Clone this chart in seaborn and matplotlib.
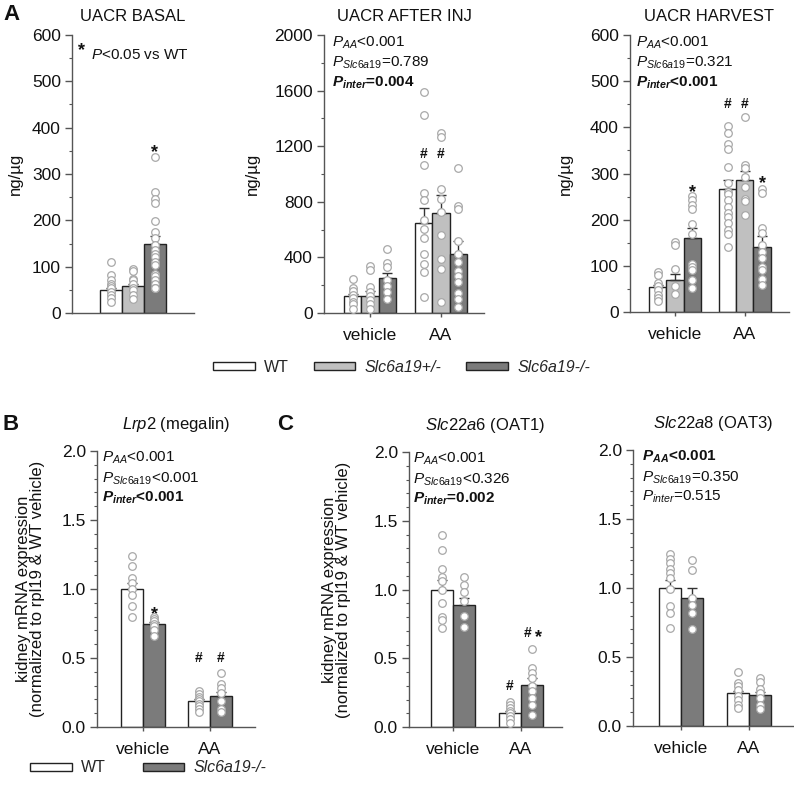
import numpy as np
import pandas as pd
import matplotlib
matplotlib.use("Agg")
import matplotlib.pyplot as plt
import seaborn as sns
from matplotlib.patches import Patch
from matplotlib.ticker import MultipleLocator, FormatStrFormatter

# ---------------- data ----------------
GENO3 = ["WT", "Slc6a19+/-", "Slc6a19-/-"]
GENO2 = ["WT", "Slc6a19-/-"]
TREAT = ["vehicle", "AA"]

# UACR basal (single group)
basal_mean = [49, 58, 149]
basal_sem = [4, 4, 18]
basal_wt = [109, 81, 72, 63, 58, 53, 45, 38, 32, 24]
basal_het = [96, 91, 74, 71, 62, 55, 49, 38, 30]
basal_ko = [337, 262, 245, 238, 198, 175, 161, 146, 137, 128, 120, 110, 103,
            85, 79, 72, 63, 55, 53]

# UACR after injection  [vehicle, AA]
inj_mean_wt = [125, 651]
inj_sem_wt = [15, 104]
inj_mean_het = [125, 721]
inj_sem_het = [33, 125]
inj_mean_ko = [255, 423]
inj_sem_ko = [33, 96]
inj_veh_wt = [248, 183, 156, 127, 108, 79, 63, 31]
inj_veh_het = [339, 312, 188, 151, 120, 91, 63, 31]
inj_veh_ko = [457, 363, 332, 236, 192, 151, 99]
inj_aa_wt = [1589, 1421, 1067, 861, 813, 668, 601, 536, 423, 356, 296, 115]
inj_aa_het = [1293, 1264, 889, 817, 726, 558, 392, 320, 79]
inj_aa_ko = [1041, 769, 748, 519, 423, 368, 303, 264, 224, 144, 103, 43]

# UACR harvest
har_mean_wt = [54, 266]
har_sem_wt = [5, 20]
har_mean_het = [69, 287]
har_sem_het = [14, 19]
har_mean_ko = [161, 141]
har_sem_ko = [21, 23]
har_veh_wt = [87, 80, 63, 56, 47, 36, 30, 23]
har_veh_het = [152, 146, 94, 56, 38]
har_veh_ko = [252, 242, 232, 224, 190, 170, 103, 98, 92, 69, 51]
har_aa_wt = [402, 387, 363, 353, 315, 279, 261, 255, 242, 228, 215, 206, 193,
             177, 170, 141]
har_aa_het = [422, 318, 311, 293, 270, 245, 240, 211]
har_aa_ko = [266, 258, 181, 172, 145, 130, 116, 98, 90, 72, 59]

# Lrp2 (megalin)
lrp2_mean_wt = [1.00, 0.186]
lrp2_sem_wt = [0.04, 0.02]
lrp2_mean_ko = [0.745, 0.222]
lrp2_sem_ko = [0.015, 0.032]
lrp2_veh_wt = [1.24, 1.17, 1.08, 1.04, 1.00, 0.96, 0.88, 0.80]
lrp2_veh_ko = [0.80, 0.78, 0.77, 0.75, 0.73, 0.70, 0.66]
lrp2_aa_wt = [0.26, 0.24, 0.22, 0.20, 0.19, 0.17, 0.15, 0.13, 0.11]
lrp2_aa_ko = [0.39, 0.31, 0.28, 0.25, 0.19, 0.13, 0.11]

# Slc22a6 (OAT1)
oat1_mean_wt = [1.00, 0.104]
oat1_sem_wt = [0.07, 0.016]
oat1_mean_ko = [0.89, 0.309]
oat1_sem_ko = [0.05, 0.05]
oat1_veh_wt = [1.40, 1.29, 1.15, 1.09, 1.06, 1.00, 0.90, 0.80, 0.78, 0.72]
oat1_veh_ko = [1.09, 1.03, 0.98, 0.92, 0.81, 0.73]
oat1_aa_wt = [0.18, 0.16, 0.14, 0.12, 0.10, 0.08, 0.06, 0.03]
oat1_aa_ko = [0.57, 0.43, 0.39, 0.36, 0.30, 0.26, 0.21, 0.16, 0.09]

# Slc22a8 (OAT3)
oat3_mean_wt = [1.00, 0.237]
oat3_sem_wt = [0.06, 0.02]
oat3_mean_ko = [0.93, 0.225]
oat3_sem_ko = [0.07, 0.024]
oat3_veh_wt = [1.25, 1.21, 1.18, 1.14, 1.11, 1.07, 0.99, 0.87, 0.82, 0.71]
oat3_veh_ko = [1.20, 1.13, 0.93, 0.88, 0.82, 0.70]
oat3_aa_wt = [0.39, 0.31, 0.29, 0.26, 0.22, 0.19, 0.15, 0.13]
oat3_aa_ko = [0.35, 0.32, 0.27, 0.24, 0.20, 0.15, 0.12]

# ---------------- style ----------------
sns.set_theme(style="ticks")
plt.rcParams["font.family"] = ["Liberation Sans", "DejaVu Sans"]
plt.rcParams["mathtext.fontset"] = "custom"
plt.rcParams["mathtext.rm"] = "Liberation Sans"
plt.rcParams["mathtext.it"] = "Liberation Sans:italic"
plt.rcParams["mathtext.bf"] = "Liberation Sans:bold"
plt.rcParams["mathtext.bfit"] = "Liberation Sans:bold:italic"

PAL = {"WT": "#ffffff", "Slc6a19+/-": "#c0c0c0", "Slc6a19-/-": "#7b7b7b"}
AXC = "#555555"
TXT = "#111111"
TICK_FS = 12.5
W, H = 794, 785
fig = plt.figure(figsize=(W / 100, H / 100), dpi=100)


def add_ax(left, right, top, bottom):
    return fig.add_axes([left / W, 1 - bottom / H, (right - left) / W, (bottom - top) / H])


def panel(ax, treats, genos, means, sems, pts, width, xlim, ylim, major, minor,
          ticks_x=True):
    rows = []
    for g, m in zip(genos, means):
        for t, v in zip(treats, m):
            rows.append({"treat": t, "geno": g, "mean": v})
    df = pd.DataFrame(rows)
    sns.barplot(data=df, x="treat", y="mean", hue="geno", order=treats,
                hue_order=genos, palette=PAL, saturation=1, width=width,
                errorbar=None, edgecolor="#222222", linewidth=1.0,
                legend=False, ax=ax, zorder=2)
    n = len(genos)
    prow = []
    for h, g in enumerate(genos):
        for t in range(len(treats)):
            x = t + (h - (n - 1) / 2) * width / n
            ax.errorbar([x], [means[h][t]], yerr=[[0], [sems[h][t]]], fmt="none",
                        ecolor="#333333", elinewidth=1.0, capsize=3.5,
                        capthick=1.0, zorder=3)
            for v in pts[h][t]:
                prow.append({"x": x, "y": v})
    pdf = pd.DataFrame(prow)
    sns.scatterplot(data=pdf, x="x", y="y", ax=ax, marker="o", s=30,
                    color="white", edgecolor="#a8a8a8", linewidth=0.9,
                    zorder=4, legend=False)
    ax.set_xlim(*xlim)
    ax.set_ylim(*ylim)
    ax.yaxis.set_major_locator(MultipleLocator(major))
    ax.yaxis.set_minor_locator(MultipleLocator(minor))
    ax.set_xlabel("")
    ax.set_ylabel("")
    sns.despine(ax=ax)
    for s in ("left", "bottom"):
        ax.spines[s].set_color(AXC)
        ax.spines[s].set_linewidth(1.0)
    ax.tick_params(axis="y", which="major", length=5, width=1, color=AXC,
                   labelsize=TICK_FS, labelcolor=TXT, pad=3)
    ax.tick_params(axis="y", which="minor", length=2.5, width=0.8, color=AXC)
    ax.tick_params(axis="x", length=3 if ticks_x else 0, width=1, color=AXC,
                   labelsize=12.5, labelcolor=TXT, pad=8)
    return width, n


def xpos(t, h, width, n):
    return t + (h - (n - 1) / 2) * width / n


def mark(ax, x, y, sym):
    if sym == "*":
        ax.annotate("*", (x, y), xytext=(0, -7.4), textcoords="offset points",
                    ha="center", va="baseline", fontsize=13, fontweight="bold",
                    color=TXT)
    else:
        ax.annotate(sym, (x, y), xytext=(0, -3.5), textcoords="offset points",
                    ha="center", va="baseline", fontsize=10, fontweight="bold",
                    color=TXT)


def ptext(ax, x, lines, ys, fs=11):
    for (s, bold), y in zip(lines, ys):
        ax.text(x, y, s, transform=ax.transAxes, ha="left", va="center",
                fontsize=fs, color=TXT, fontweight="bold" if bold else "normal")


SUB = r"$P_{\mathit{Slc6a19}}$"
INTER_B = r"$\mathbfit{P}_{\mathbfit{inter}}$"
INTER = r"$P_{\mathit{inter}}$"
PAA = r"$P_{\mathit{AA}}$"
PAA_B = r"$\mathbfit{P}_{\mathbfit{AA}}$"

# ---------------- Panel A ----------------
ax1 = add_ax(72, 194, 35, 313)
w, n = panel(ax1, ["basal"], GENO3, [[basal_mean[0]], [basal_mean[1]], [basal_mean[2]]],
             [[basal_sem[0]], [basal_sem[1]], [basal_sem[2]]],
             [[basal_wt], [basal_het], [basal_ko]], 0.8, (-0.74, 0.74), (0, 600),
             100, 50, ticks_x=False)
ax1.set_xticklabels([""])
ax1.set_title("UACR BASAL", fontsize=12, color=TXT, pad=10)
ax1.set_ylabel("ng/µg", fontsize=12, color=TXT)
ax1.yaxis.set_label_coords(-0.40, 0.5)
mark(ax1, xpos(0, 2, w, n), 359, "*")
ax1.annotate("*", (0.08, 0.965), xycoords="axes fraction", xytext=(0, -7.4),
             textcoords="offset points", ha="center", va="baseline",
             fontsize=13, fontweight="bold", color=TXT)
ax1.text(0.155, 0.927, r"$P$<0.05 vs WT", transform=ax1.transAxes, ha="left",
         va="center", fontsize=11, color=TXT)

ax2 = add_ax(324, 484, 35, 313)
w, n = panel(ax2, TREAT, GENO3, [inj_mean_wt, inj_mean_het, inj_mean_ko],
             [inj_sem_wt, inj_sem_het, inj_sem_ko],
             [[inj_veh_wt, inj_aa_wt], [inj_veh_het, inj_aa_het], [inj_veh_ko, inj_aa_ko]],
             0.72, (-0.648, 1.606), (0, 2000), 400, 200)
ax2.set_title("UACR AFTER INJ", fontsize=12, color=TXT, pad=10)
ax2.set_ylabel("ng/µg", fontsize=12, color=TXT)
ax2.yaxis.set_label_coords(-0.40, 0.5)
ptext(ax2, 0.05, [(PAA + "<0.001", False), (SUB + "=0.789", False),
                  (INTER_B + "=0.004", True)], [0.971, 0.899, 0.827])
mark(ax2, xpos(1, 0, w, n), 1151, "#")
mark(ax2, xpos(1, 1, w, n), 1151, "#")

ax3 = add_ax(630, 789, 35, 312)
w, n = panel(ax3, TREAT, GENO3, [har_mean_wt, har_mean_het, har_mean_ko],
             [har_sem_wt, har_sem_het, har_sem_ko],
             [[har_veh_wt, har_aa_wt], [har_veh_het, har_aa_het], [har_veh_ko, har_aa_ko]],
             0.73, (-0.643, 1.629), (0, 600), 100, 50)
ax3.set_title("UACR HARVEST", fontsize=12, color=TXT, pad=10)
ax3.set_ylabel("ng/µg", fontsize=12, color=TXT)
ax3.yaxis.set_label_coords(-0.36, 0.5)
ptext(ax3, 0.04, [(PAA + "<0.001", False), (SUB + "=0.321", False),
                  (INTER_B + "<0.001", True)], [0.971, 0.899, 0.827])
mark(ax3, xpos(1, 0, w, n), 453, "#")
mark(ax3, xpos(1, 1, w, n), 453, "#")
mark(ax3, xpos(0, 2, w, n), 271, "*")
mark(ax3, xpos(1, 2, w, n), 290, "*")

legA = fig.legend(handles=[Patch(facecolor=PAL[g], edgecolor="#222222", linewidth=1.0)
                           for g in GENO3],
                  labels=GENO3, loc="center left", bbox_to_anchor=(213 / W, 1 - 367 / H),
                  ncol=3, frameon=False, handlelength=2.6, handleheight=0.45,
                  handletextpad=0.6, columnspacing=1.55, borderpad=0,
                  borderaxespad=0, fontsize=11.5)
for t in legA.get_texts()[1:]:
    t.set_style("italic")

# ---------------- Panel B ----------------
YLAB = "kidney mRNA expression\n(normalized to rpl19 & WT vehicle)"
axB = add_ax(97, 255, 451, 727)
w, n = panel(axB, TREAT, GENO2, [lrp2_mean_wt, lrp2_mean_ko], [lrp2_sem_wt, lrp2_sem_ko],
             [[lrp2_veh_wt, lrp2_aa_wt], [lrp2_veh_ko, lrp2_aa_ko]],
             0.657, (-0.687, 1.672), (0, 2.0), 0.5, 0.1)
axB.set_title(r"$\mathit{Lrp2}$ (megalin)", fontsize=12, color=TXT, pad=16)
axB.set_ylabel(YLAB, fontsize=12, color=TXT, linespacing=0.9)
axB.yaxis.set_label_coords(-0.33, 0.5)
axB.yaxis.set_major_formatter(FormatStrFormatter("%.1f"))
ptext(axB, 0.03, [(PAA + "<0.001", False), (SUB + "<0.001", False),
                  (INTER_B + "<0.001", True)], [0.975, 0.899, 0.83])
mark(axB, xpos(0, 1, w, n), 0.855, "*")
mark(axB, xpos(1, 0, w, n), 0.507, "#")
mark(axB, xpos(1, 1, w, n), 0.507, "#")

legB = fig.legend(handles=[Patch(facecolor=PAL[g], edgecolor="#222222", linewidth=1.0)
                           for g in GENO2],
                  labels=GENO2, loc="center left", bbox_to_anchor=(30 / W, 1 - 768 / H),
                  ncol=2, frameon=False, handlelength=2.6, handleheight=0.45,
                  handletextpad=0.6, columnspacing=2.3, borderpad=0,
                  borderaxespad=0, fontsize=11.5)
legB.get_texts()[1].set_style("italic")

# ---------------- Panel C ----------------
axC1 = add_ax(409, 562, 452, 727)
w, n = panel(axC1, TREAT, GENO2, [oat1_mean_wt, oat1_mean_ko], [oat1_sem_wt, oat1_sem_ko],
             [[oat1_veh_wt, oat1_aa_wt], [oat1_veh_ko, oat1_aa_ko]],
             0.65, (-0.647, 1.603), (0, 2.0), 0.5, 0.1)
axC1.set_title(r"$\mathit{Slc22a6}$ (OAT1)", fontsize=12, color=TXT, pad=16)
axC1.set_ylabel(YLAB, fontsize=12, color=TXT, linespacing=0.9)
axC1.yaxis.set_label_coords(-0.38, 0.5)
axC1.yaxis.set_major_formatter(FormatStrFormatter("%.1f"))
ptext(axC1, 0.026, [(PAA + "<0.001", False), (SUB + "<0.326", False),
                    (INTER_B + "=0.002", True)], [0.975, 0.899, 0.83])
mark(axC1, xpos(1, 0, w, n), 0.304, "#")
mark(axC1, xpos(1, 1, w, n) - 0.06, 0.69, "#")
mark(axC1, xpos(1, 1, w, n) + 0.09, 0.69, "*")

axC2 = add_ax(633, 793, 450, 726)
w, n = panel(axC2, TREAT, GENO2, [oat3_mean_wt, oat3_mean_ko], [oat3_sem_wt, oat3_sem_ko],
             [[oat3_veh_wt, oat3_aa_wt], [oat3_veh_ko, oat3_aa_ko]],
             0.66, (-0.706, 1.647), (0, 2.0), 0.5, 0.1)
axC2.set_title(r"$\mathit{Slc22a8}$ (OAT3)", fontsize=12, color=TXT, pad=16)
axC2.yaxis.set_major_formatter(FormatStrFormatter("%.1f"))
ptext(axC2, 0.056, [(PAA_B + "<0.001", True), (SUB + "=0.350", False),
                    (INTER + "=0.515", False)], [0.975, 0.899, 0.83])

# panel letters
for lab, x, y in [("A", 3, 15), ("B", 3, 424), ("C", 277, 424)]:
    fig.text(x / W, 1 - y / H, lab, fontsize=16, fontweight="bold", color=TXT,
             ha="left", va="center")

fig.savefig("out.png", dpi=100)
